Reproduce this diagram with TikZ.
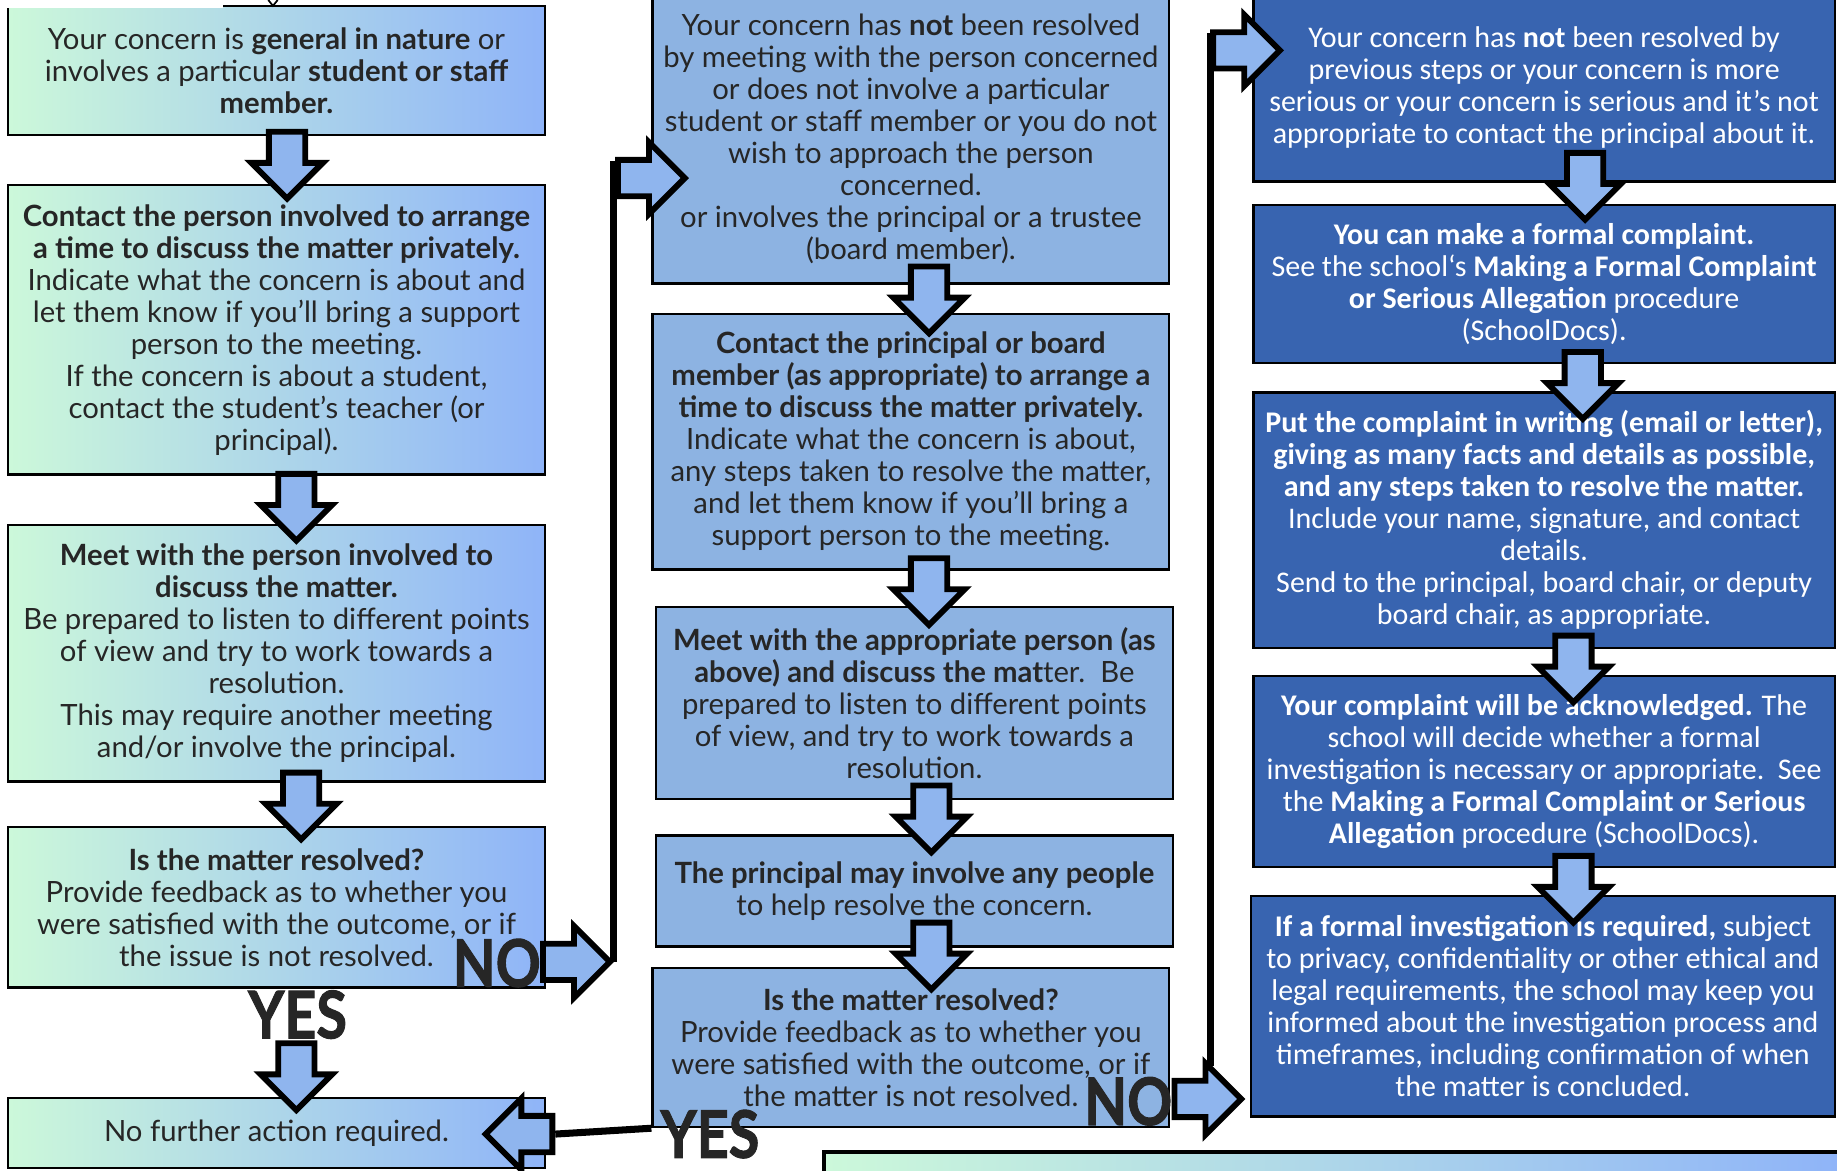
\documentclass[tikz,border=0pt]{standalone}
\usepackage{fontspec}
\setmainfont{Lato}
\newfontfamily\calib{Carlito}
\newfontfamily\heavyfont[FakeBold=1.6]{Lato}
\usetikzlibrary{shapes.arrows,backgrounds}
\definecolor{mintgreen}{HTML}{CCF8DA}
\definecolor{skyblue}{HTML}{8FB4F8}
\definecolor{midblue}{HTML}{8DB3E2}
\definecolor{deepblue}{HTML}{3864B0}
\definecolor{arrowblue}{HTML}{8FB5EE}
\definecolor{inkgray}{HTML}{262626}

\begin{document}
\begin{tikzpicture}[x=1pt, y=-1pt,
	stepgreen/.style={draw=black, line width=2pt, left color=mintgreen, right color=skyblue, text=inkgray, align=center, font=\fontsize{25}{27.3}\selectfont, minimum width=458},
	stepmid/.style={draw=black, line width=2pt, fill=midblue, text=inkgray, align=center, font=\fontsize{25}{27.3}\selectfont, minimum width=441},
	stepdeep/.style={draw=black, line width=2pt, fill=deepblue, text=white, align=center, font=\calib\fontsize{25.6}{27.3}\selectfont, minimum width=496},
	blkarrow/.style={single arrow, draw=black, fill=arrowblue, line width=5pt, inner xsep=0pt, inner ysep=13pt, single arrow head extend=15pt, minimum height=57, anchor=tail},
	joinline/.style={draw=black, line width=6pt},
	answer/.style={font=\heavyfont\fontsize{56}{60}\selectfont\bfseries, text=inkgray, inner sep=0pt, xscale=0.85}]
	\useasboundingbox (0,0) rectangle (1568,999);

	% left column
	\node[stepgreen, minimum height=110] (concern) at (236,60) {Your concern is \textbf{general in nature} or\\ involves a particular \textbf{student or staff}\\ \textbf{member.}};
	\node[stepgreen, minimum height=247] (contact) at (236,281.5) {\textbf{Contact the person involved to arrange}\\ \textbf{a time to discuss the matter privately.}\\ Indicate what the concern is about and\\ let them know if you’ll bring a support\\ person to the meeting.\\ If the concern is about a student,\\ contact the student’s teacher (or\\ principal).};
	\node[stepgreen, minimum height=219] (meet) at (236,557.5) {\textbf{Meet with the person involved to}\\ \textbf{discuss the matter.}\\ Be prepared to listen to different points\\ of view and try to work towards a\\ resolution.\\ This may require another meeting\\ and/or involve the principal.};
	\node[stepgreen, minimum height=137] (resolved) at (236,774.5) {\textbf{Is the matter resolved?}\\ Provide feedback as to whether you\\ were satisfied with the outcome, or if\\ the issue is not resolved.};
	\node[stepgreen, minimum height=60] (nofurther) at (236,967) {No further action required.};
	\fill[white] (0,0) rectangle (190,7);
	\draw[line width=1.5pt] (229,0) -- (233,5) -- (237,0);

	% middle column
	\node[stepmid, minimum height=247] (notresolved) at (777.5,118.5) {Your concern has \textbf{not} been resolved\\ by meeting with the person concerned\\ or does not involve a particular\\ student or staff member or you do not\\ wish to approach the person\\ concerned.\\ or involves the principal or a trustee\\ (board member).};
	\node[stepmid, minimum height=218] (principal) at (777.5,377) {\textbf{Contact the principal or board}\\ \textbf{member (as appropriate) to arrange a}\\ \textbf{time to discuss the matter privately.}\\ Indicate what the concern is about,\\ any steps taken to resolve the matter,\\ and let them know if you’ll bring a\\ support person to the meeting.};
	\node[stepmid, minimum height=164] (meetapp) at (780.5,600) {\textbf{Meet with the appropriate person (as}\\ \textbf{above) and discuss the mat}ter.\ \ Be\\ prepared to listen to different points\\ of view, and try to work towards a\\ resolution.};
	\node[stepmid, minimum height=95] (involve) at (780.5,760.5) {\textbf{The principal may involve any people}\\ to help resolve the concern.};
	\node[stepmid, minimum height=136] (resolved2) at (777.5,894) {\textbf{Is the matter resolved?}\\ Provide feedback as to whether you\\ were satisfied with the outcome, or if\\ the matter is not resolved.};

	% right column
	\node[stepdeep, minimum height=160] (serious) at (1318,75) {Your concern has \textbf{not} been resolved by\\ previous steps or your concern is more\\ serious or your concern is serious and it’s not\\ appropriate to contact the principal about it.};
	\node[stepdeep, minimum height=135] (formal) at (1318,242.5) {\textbf{You can make a formal complaint.}\\ See the school‘s \textbf{Making a Formal Complaint}\\ \textbf{or Serious Allegation} procedure\\ (SchoolDocs).};
	\node[stepdeep, minimum height=218] (writing) at (1318,444) {\textbf{Put the complaint in writing (email or letter),}\\ \textbf{giving as many facts and details as possible,}\\ \textbf{and any steps taken to resolve the matter.}\\ Include your name, signature, and contact\\ details.\\ Send to the principal, board chair, or deputy\\ board chair, as appropriate.};
	\node[stepdeep, minimum height=163] (acknowledged) at (1318,658.5) {\textbf{Your complaint will be acknowledged.} The\\ school will decide whether a formal\\ investigation is necessary or appropriate.\ \ See\\ the \textbf{Making a Formal Complaint or Serious}\\ \textbf{Allegation} procedure (SchoolDocs).};
	\node[stepdeep, minimum width=498, minimum height=188] (investigation) at (1317,859) {\textbf{If a formal investigation is required,} subject\\ to privacy, confidentiality or other ethical and\\ legal requirements, the school may keep you\\ informed about the investigation process and\\ timeframes, including confirmation of when\\ the matter is concluded.};

	\node[stepgreen, line width=3pt, minimum width=866, minimum height=30, anchor=north west] (strip) at (702,982) {};

	% yes / no
	\node[answer] (no1) at (424,822) {NO};
	\node[answer] (yes1) at (254,866) {YES};
	\node[answer] (no2) at (963,940) {NO};
	\node[answer] (yes2) at (606,968) {YES};

	% block arrows
	\foreach \n/\x/\y in {d1/245/110, d2/253/402, d3/257/657, d4/253/888, d5/793/225, d6/793/474, d7/795/668, d8/795/785, d9/1353/128, d10/1351/298, d11/1343/540, d12/1343/728}
		\node[blkarrow, rotate=-90] (\n) at (\x,\y) {};
	\node[blkarrow] (r1) at (461,821) {};
	\node[blkarrow] (r2) at (525,152) {};
	\node[blkarrow] (r3) at (1000,938) {};
	\node[blkarrow] (r4) at (1033,43) {};
	\node[blkarrow, rotate=180] (l1) at (474,968) {};

	% joining lines
	\begin{pgfonlayer}{background}
		\coordinate (r2top) at ([yshift=15pt]r2.tail);
		\coordinate (r4top) at ([yshift=15pt]r4.tail);
		\path (r3.tail) ++(0,-28) coordinate (c2foot);
		\draw[joinline] (r1.tip) -- (r1.tip |- r2top);
		\draw[joinline] (r4top) -- (r4top |- c2foot);
		\draw[joinline] (resolved2.south west) -- (l1.tail);
	\end{pgfonlayer}
\end{tikzpicture}
\end{document}
